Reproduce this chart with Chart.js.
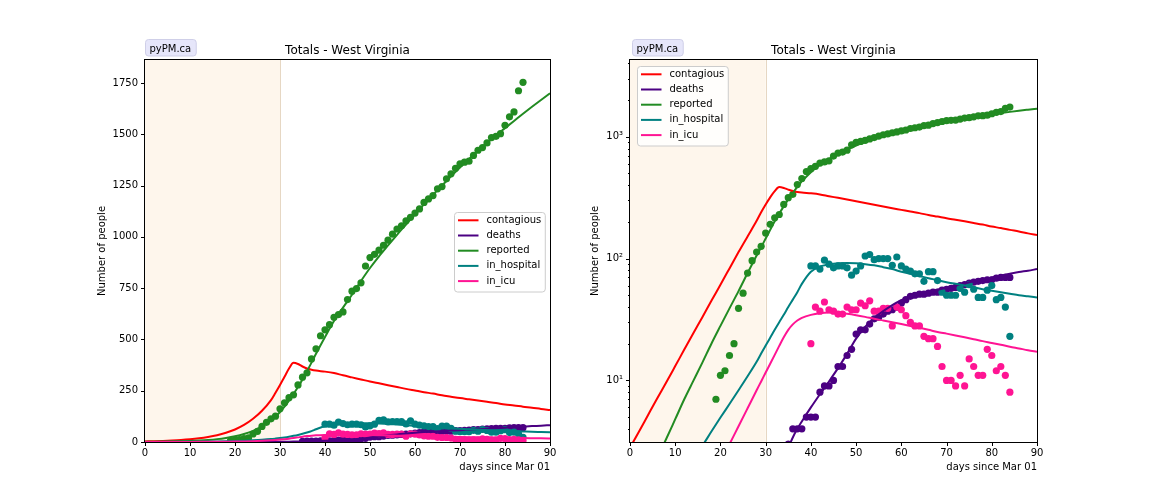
<!DOCTYPE html>
<html>
<head>
<meta charset="utf-8">
<script src="https://cdn.jsdelivr.net/npm/chart.js@4.4.1/dist/chart.umd.min.js"></script>
<style>
  html, body { margin: 0; padding: 0; background: #ffffff; }
  #wrap { position: relative; width: 1152px; height: 504px; overflow: hidden; background: #ffffff; }
  #wrap canvas { position: absolute; top: 0; }
</style>
</head>
<body>
<div id="wrap">
  <canvas id="linChart" width="576" height="504" style="left:0px"></canvas>
  <canvas id="logChart" width="576" height="504" style="left:576px"></canvas>
</div>
<script>
// ---------- text ----------
const titleText = 'Totals - West Virginia';
const badgeText = 'pyPM.ca';
const xAxisTitle = 'days since Mar 01';
const yAxisTitle = 'Number of people';

// ---------- series ----------
const seriesNames  = ['contagious', 'deaths', 'reported', 'in_hospital', 'in_icu'];
const seriesColors = ['#ff0000', '#4b0082', '#228b22', '#008080', '#ff1493'];

// ---------- ticks ----------
const xTicks = [0, 10, 20, 30, 40, 50, 60, 70, 80, 90];
const linYTicks = [0, 250, 500, 750, 1000, 1250, 1500, 1750];
const logMajorTicks = [10, 100, 1000];
const logMajorLabels = ['10\u00b9', '10\u00b2', '10\u00b3'];
const logMinorTicks = [4, 5, 6, 7, 8, 9, 20, 30, 40, 50, 60, 70, 80, 90,
  200, 300, 400, 500, 600, 700, 800, 900, 2000, 3000, 4000];
const xRange = [0, 90];
const linYRange = [0, 1862];
const logYRange = [3.12, 4265];
const shadeRange = [0, 30];

// ---------- model curves ----------
const modelDays = [0, 2, 4, 6, 8, 10, 12, 14, 16, 18, 20, 22, 24, 26, 28,
  29, 30, 31, 32, 33, 34, 35, 36, 37, 38,
  40, 42, 44, 46, 48, 50, 52, 54, 56, 58, 60, 62, 64, 66, 68, 70,
  72, 74, 76, 78, 80, 82, 84, 86, 88, 90];

const contagiousModel = [2.8, 3.8, 5.2, 7.1, 9.6, 13.1, 17.9, 24.4, 33, 45, 61, 83, 113, 152, 204,
  240, 278, 318, 358, 386, 380, 368, 358, 352, 348,
  343, 336, 325, 315, 305, 295, 286, 277, 268, 259, 251, 243, 236, 228, 221, 214,
  208, 202, 196, 190, 183, 178, 172, 167, 161, 156];

const deathsModel = [0.01, 0.01, 0.02, 0.03, 0.04, 0.06, 0.08, 0.1, 0.14, 0.2, 0.28, 0.38, 0.5, 0.65, 0.85,
  1.0, 1.15, 1.35, 1.6, 1.9, 2.3, 2.8, 3.4, 4.0, 4.6,
  6.0, 7.7, 9.8, 12.6, 16.5, 22, 27.5, 32.5, 37, 41.5, 45.5, 49, 51.5, 53.5, 55.5, 57.5,
  60, 62.5, 65, 67.5, 70, 72.5, 75, 77.5, 79.5, 82];

const reportedModel = [0.8, 1.1, 1.6, 2.3, 3.3, 4.8, 7.0, 9.9, 14, 20, 28, 39, 54, 76, 106,
  124, 146, 172, 202, 234, 268, 305, 345, 387, 430,
  512, 590, 655, 718, 785, 848, 905, 958, 1010, 1060, 1110, 1158, 1205, 1250, 1295, 1338,
  1380, 1420, 1458, 1495, 1530, 1565, 1600, 1634, 1667, 1700];

const hospitalModel = [0.4, 0.5, 0.65, 0.85, 1.1, 1.35, 1.75, 2.25, 2.9, 3.8, 4.95, 6.4, 8.3, 10.8, 14.2,
  16.6, 19.3, 22.4, 26, 30, 34.5, 40, 46, 53, 62,
  78, 86, 89.5, 91.5, 92, 91.5, 90, 88, 85, 82, 78, 75, 72, 69, 66.5, 64,
  62, 60, 58, 56, 54.5, 53, 51.5, 50, 49, 48];

const icuModel = [0.1, 0.14, 0.2, 0.27, 0.38, 0.52, 0.72, 1.0, 1.35, 1.7, 2.2, 3.0, 4.2, 5.9, 8.3,
  9.8, 11.6, 13.7, 16.2, 19.2, 22.6, 26, 28.8, 31, 32.6,
  34.5, 35.6, 36, 35.8, 35.2, 34.3, 33.2, 32, 31, 30, 29, 28, 27, 26, 25, 24.2,
  23.4, 22.6, 21.8, 21, 20.3, 19.6, 18.9, 18.3, 17.7, 17.2];

// ---------- observed data ----------
const reportedDays = [19, 20, 21, 22, 23, 24, 25, 26, 27, 28, 29, 30, 31, 32, 33, 34, 35, 36, 37, 38,
  39, 40, 41, 42, 43, 44, 45, 46, 47, 48, 49, 50, 51, 52, 53, 54, 55, 56, 57, 58,
  59, 60, 61, 62, 63, 64, 65, 66, 67, 68, 69, 70, 71, 72, 73, 74, 75, 76, 77, 78,
  79, 80, 81, 82, 83, 84];
const reportedValues = [7, 11, 12, 16, 20, 39, 52, 76, 96, 113, 126, 162, 191, 216, 230, 278, 316, 337, 405, 454,
  518, 547, 572, 608, 621, 634, 694, 735, 748, 776, 858, 899, 915, 935, 959, 984, 1013, 1038, 1054, 1078,
  1095, 1116, 1136, 1168, 1185, 1201, 1234, 1245, 1283, 1307, 1334, 1356, 1364, 1369, 1397, 1422, 1435, 1458, 1484, 1490,
  1503, 1544, 1585, 1609, 1712, 1753];

const deathsDays = [35, 36, 37, 38, 39, 40, 41, 42, 43, 44, 45, 46, 47, 48, 49, 50, 51, 52, 53, 54,
  55, 56, 57, 58, 59, 60, 61, 62, 63, 64, 65, 66, 67, 68, 69, 70, 71, 72, 73, 74,
  75, 76, 77, 78, 79, 80, 81, 82, 83, 84];
const deathsValues = [3, 4, 4, 4, 5, 5, 5, 8, 9, 9, 10, 13, 13, 16, 18, 24, 26, 26, 29, 32,
  33, 35, 37, 38, 40, 43, 46, 49, 50, 51, 51, 52, 53, 53, 55, 56, 57, 58, 60, 61,
  63, 64, 65, 66, 67, 67, 69, 70, 70, 70];

const hospitalDays = [40, 41, 42, 43, 44, 45, 46, 47, 48, 49, 50, 51, 52, 53, 54, 55, 56, 57, 58, 59,
  60, 61, 62, 63, 64, 65, 66, 67, 68, 69, 70, 71, 72, 73, 74, 75, 76, 77, 78, 79,
  80, 81, 82, 83, 84];
const hospitalValues = [87, 87, 82, 97, 90, 84, 87, 87, 84, 73, 79, 87, 105, 108, 98, 100, 100, 100, 88, 103,
  87, 82, 79, 75, 75, 65, 78, 78, 66, 53, 50, 50, 50, 57, 53, 61, 56, 48, 48, 55,
  60, 46, 48, 40, 23];

const icuDays = [40, 41, 42, 43, 44, 45, 46, 47, 48, 49, 50, 51, 52, 53, 54, 55, 56, 57, 58, 59,
  60, 61, 62, 63, 64, 65, 66, 67, 68, 69, 70, 71, 72, 73, 74, 75, 76, 77, 78, 79,
  80, 81, 82, 83, 84];
const icuValues = [20, 40, 37, 44, 38, 37, 35, 35, 40, 38, 38, 43, 41, 45, 37, 37, 39, 39, 28, 40,
  38, 34, 30, 28, 28, 23, 22, 22, 19, 13, 10, 10, 9, 11, 9, 15, 13, 11, 11, 18,
  16, 12, 13, 11, 8];

// ---------- helpers ----------
function zip(days, vals) { return days.map((d, i) => ({ x: d, y: vals[i] })); }

const modelSeries = [contagiousModel, deathsModel, reportedModel, hospitalModel, icuModel];
const observed = [
  { idx: 1, days: deathsDays, vals: deathsValues },
  { idx: 2, days: reportedDays, vals: reportedValues },
  { idx: 3, days: hospitalDays, vals: hospitalValues },
  { idx: 4, days: icuDays, vals: icuValues }
];

function buildDatasets() {
  const ds = [];
  modelSeries.forEach((vals, i) => {
    ds.push({
      label: seriesNames[i],
      data: zip(modelDays, vals),
      borderColor: seriesColors[i],
      backgroundColor: seriesColors[i],
      borderWidth: 2,
      pointRadius: 0,
      fill: false,
      cubicInterpolationMode: 'monotone',
      order: 5 - i
    });
  });
  observed.forEach((o, j) => {
    ds.push({
      label: seriesNames[o.idx] + '_data',
      data: zip(o.days, o.vals),
      showLine: false,
      pointRadius: 3.6,
      pointBorderWidth: 0,
      pointBackgroundColor: seriesColors[o.idx],
      pointBorderColor: seriesColors[o.idx],
      order: 20 - j
    });
  });
  return ds;
}

function roundRectPath(ctx, x, y, w, h, r) {
  ctx.beginPath();
  ctx.moveTo(x + r, y);
  ctx.lineTo(x + w - r, y);
  ctx.arcTo(x + w, y, x + w, y + r, r);
  ctx.lineTo(x + w, y + h - r);
  ctx.arcTo(x + w, y + h, x + w - r, y + h, r);
  ctx.lineTo(x + r, y + h);
  ctx.arcTo(x, y + h, x, y + h - r, r);
  ctx.lineTo(x, y + r);
  ctx.arcTo(x, y, x + r, y, r);
  ctx.closePath();
}

const FONT = "'DejaVu Sans', 'Liberation Sans', sans-serif";

const decorPlugin = {
  id: 'decor',
  beforeDatasetsDraw(chart) {
    const { ctx, chartArea: a, scales: { x } } = chart;
    const x0 = x.getPixelForValue(shadeRange[0]);
    const x1 = x.getPixelForValue(shadeRange[1]);
    ctx.save();
    ctx.fillStyle = '#fef6ec';
    ctx.fillRect(x0, a.top, x1 - x0, a.bottom - a.top);
    ctx.strokeStyle = 'rgba(205,175,135,0.5)';
    ctx.lineWidth = 1;
    ctx.beginPath();
    ctx.moveTo(Math.round(x1) + 0.5, a.top);
    ctx.lineTo(Math.round(x1) + 0.5, a.bottom);
    ctx.stroke();
    ctx.restore();
  },
  afterDraw(chart, args, opts) {
    const { ctx, chartArea: a, scales: { x, y } } = chart;
    ctx.save();
    // frame
    ctx.strokeStyle = '#000';
    ctx.lineWidth = 1;
    ctx.strokeRect(a.left - 0.5, a.top - 0.5, a.right - a.left + 1, a.bottom - a.top + 1);
    // tick marks
    ctx.beginPath();
    xTicks.forEach(v => {
      const px = Math.round(x.getPixelForValue(v)) + 0.5;
      ctx.moveTo(px, a.bottom);
      ctx.lineTo(px, a.bottom + 4);
    });
    const majors = opts.logMode ? logMajorTicks : linYTicks;
    majors.forEach(v => {
      const py = Math.round(y.getPixelForValue(v)) + 0.5;
      ctx.moveTo(a.left - 4, py);
      ctx.lineTo(a.left, py);
    });
    if (opts.logMode) {
      logMinorTicks.forEach(v => {
        const py = Math.round(y.getPixelForValue(v)) + 0.5;
        ctx.moveTo(a.left - 2, py);
        ctx.lineTo(a.left, py);
      });
    }
    ctx.stroke();

    // title
    ctx.fillStyle = '#000';
    ctx.font = '12px ' + FONT;
    ctx.textAlign = 'center';
    ctx.textBaseline = 'alphabetic';
    ctx.fillText(titleText, (a.left + a.right) / 2, a.top - 6);

    // badge
    ctx.font = '10px ' + FONT;
    const bw = ctx.measureText(badgeText).width + 9;
    const bx = a.left + opts.badgeDx, by = 39.5;
    roundRectPath(ctx, bx + 0.5, by, bw, 16.5, 3);
    ctx.fillStyle = '#e6e6fa';
    ctx.fill();
    ctx.strokeStyle = '#cfcfe8';
    ctx.stroke();
    ctx.fillStyle = '#000';
    ctx.textAlign = 'left';
    ctx.fillText(badgeText, bx + 4.5, 51.5);

    // legend
    let tw = 0;
    seriesNames.forEach(n => { tw = Math.max(tw, ctx.measureText(n).width); });
    const lw = 4 + 20 + 8 + tw + 4;
    const rowH = 15.2;
    const lh = rowH * seriesNames.length + 3.5;
    let lx, ly;
    if (opts.legendLoc === 'upper left') {
      lx = a.left + 6.5;
      ly = a.top + 5.5;
    } else {
      lx = a.right - 5 - lw;
      ly = (a.top + a.bottom) / 2 - lh / 2 + 1;
    }
    lx = Math.round(lx) + 0.5; ly = Math.round(ly) + 0.5;
    roundRectPath(ctx, lx, ly, lw, lh, 3);
    ctx.fillStyle = 'rgba(255,255,255,0.85)';
    ctx.fill();
    ctx.strokeStyle = '#cccccc';
    ctx.lineWidth = 1;
    ctx.stroke();
    ctx.textBaseline = 'middle';
    seriesNames.forEach((n, i) => {
      const cy = ly + 7.8 + i * rowH;
      ctx.strokeStyle = seriesColors[i];
      ctx.lineWidth = 2;
      ctx.beginPath();
      ctx.moveTo(lx + 3.5, cy);
      ctx.lineTo(lx + 24, cy);
      ctx.stroke();
      ctx.fillStyle = '#000';
      ctx.fillText(n, lx + 32, cy);
    });
    ctx.restore();
  }
};

Chart.defaults.font.family = FONT;
Chart.defaults.font.size = 10;
Chart.defaults.color = '#000';

function makeChart(canvasId, logMode, lay) {
  const yScale = logMode ? {
    type: 'logarithmic',
    min: logYRange[0], max: logYRange[1],
    afterBuildTicks: s => {
      s.ticks = logMajorTicks.concat(logMinorTicks).sort((a, b) => a - b).map(v => ({ value: v }));
    },
    ticks: {
      autoSkip: false, padding: 3,
      callback: v => { const k = logMajorTicks.indexOf(v); return k >= 0 ? logMajorLabels[k] : ''; }
    }
  } : {
    type: 'linear',
    min: linYRange[0], max: linYRange[1],
    afterBuildTicks: s => { s.ticks = linYTicks.map(v => ({ value: v })); },
    ticks: { autoSkip: false, padding: 3, callback: v => String(v) }
  };
  Object.assign(yScale, {
    grid: { display: false, drawTicks: true, tickLength: 4 },
    border: { display: false },
    afterFit: s => { s.width = lay.yw; },
    title: { display: true, text: yAxisTitle, padding: { top: lay.ytp, bottom: 0 }, font: { size: 10 } }
  });

  return new Chart(document.getElementById(canvasId), {
    type: 'line',
    data: { datasets: buildDatasets() },
    options: {
      responsive: false,
      animation: false,
      devicePixelRatio: 1,
      events: [],
      layout: { padding: { left: lay.pl, right: lay.pr, top: 60, bottom: 0 } },
      plugins: {
        legend: { display: false },
        title: { display: false },
        tooltip: { enabled: false },
        decor: { logMode: logMode, legendLoc: lay.legendLoc, badgeDx: lay.badgeDx }
      },
      scales: {
        x: {
          type: 'linear',
          min: xRange[0], max: xRange[1],
          afterBuildTicks: s => { s.ticks = xTicks.map(v => ({ value: v })); },
          ticks: { autoSkip: false, maxRotation: 0, padding: 1, callback: v => String(v) },
          grid: { display: false, drawTicks: true, tickLength: 4 },
          border: { display: false },
          afterFit: s => { s.height = 62; },
          title: { display: true, text: xAxisTitle, align: 'end', padding: { top: 0, bottom: 31 }, font: { size: 10 } }
        },
        y: yScale
      }
    },
    plugins: [decorPlugin]
  });
}

makeChart('linChart', false, { pl: 90, pr: 26, yw: 55, ytp: 6, legendLoc: 'center right', badgeDx: 0 });
makeChart('logChart', true, { pl: 5, pr: 115, yw: 49, ytp: 8, legendLoc: 'upper left', badgeDx: 2 });
</script>
</body>
</html>
